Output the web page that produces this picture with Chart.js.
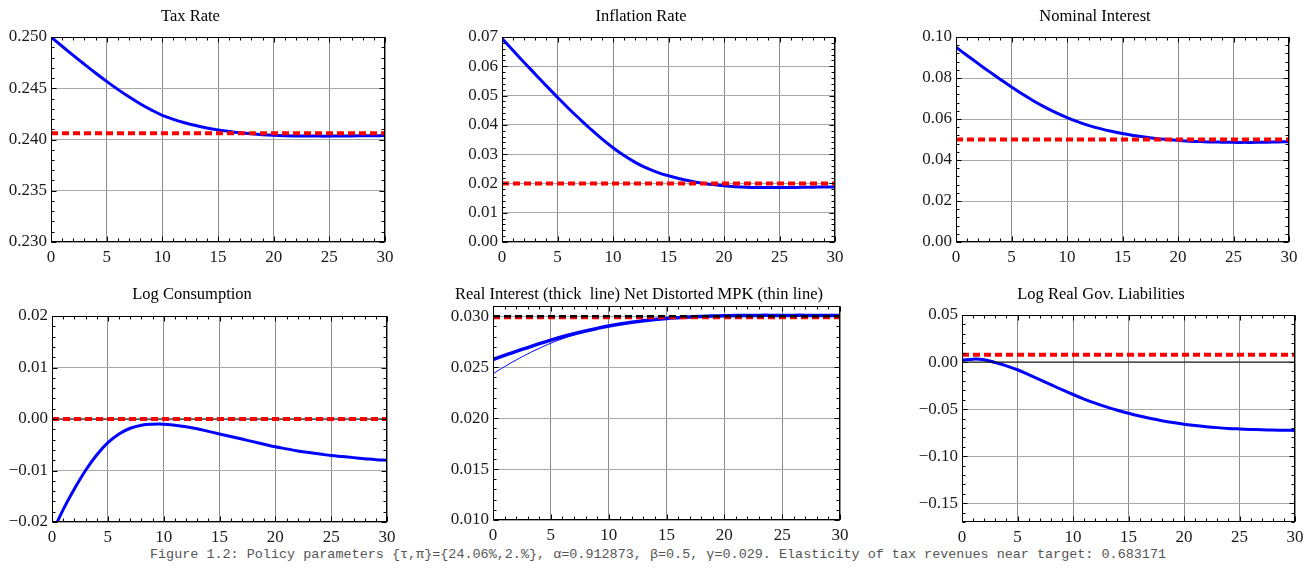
<!DOCTYPE html>
<html>
<head>
<meta charset="utf-8">
<title>Policy parameters</title>
<script src="https://cdn.jsdelivr.net/npm/chart.js@4.4.1/dist/chart.umd.min.js"></script>
<style>
  html, body { margin: 0; padding: 0; background: #fff; }
  body { position: relative; width: 1316px; height: 568px; overflow: hidden; }
  canvas { position: absolute; }
  #caption {
    position: absolute; left: 0; top: 547px; width: 1316px;
    text-align: center; white-space: pre;
    font: 13.45px "Liberation Mono", "DejaVu Sans Mono", monospace;
    line-height: 15px; color: #555;
  }
</style>
</head>
<body>
<div id="caption">Figure 1.2: Policy parameters {τ,π}={24.06%,2.%}, α=0.912873, β=0.5, γ=0.029. Elasticity of tax revenues near target: 0.683171</div>
<script>
// periods 0..30
const years = [0,1,2,3,4,5,6,7,8,9,10,11,12,13,14,15,16,17,18,19,20,21,22,23,24,25,26,27,28,29,30];
const xTicks = [0, 5, 10, 15, 20, 25, 30];
const targetX = [0, 30];

// Tax Rate
const taxPath = [0.25000,0.24910,0.24821,0.24734,0.24649,0.24567,0.24489,0.24416,0.24349,0.24289,0.24236,
  0.24197,0.24164,0.24136,0.24113,0.24094,0.24078,0.24065,0.24055,0.24047,0.24041,
  0.24037,0.24035,0.24034,0.24033,0.24033,0.24034,0.24035,0.24036,0.24037,0.24038];
const taxTarget = [0.2406, 0.2406];
const taxTicks = [0.230, 0.235, 0.240, 0.245, 0.250];

// Inflation Rate
const inflPath = [0.0695,0.0654,0.0613,0.0573,0.0533,0.0494,0.0456,0.0420,0.0385,0.0352,0.0322,
  0.0295,0.0272,0.0253,0.0238,0.0226,0.0216,0.0208,0.0201,0.0196,0.0192,
  0.0189,0.0187,0.0186,0.0186,0.0186,0.0186,0.0187,0.0187,0.0188,0.0188];
const inflTarget = [0.020, 0.020];
const inflTicks = [0.00, 0.01, 0.02, 0.03, 0.04, 0.05, 0.06, 0.07];

// Nominal Interest
const nomPath = [0.0950,0.0910,0.0870,0.0831,0.0793,0.0756,0.0721,0.0688,0.0658,0.0631,0.0607,
  0.0586,0.0568,0.0553,0.0540,0.0529,0.0520,0.0512,0.0505,0.0500,0.0496,
  0.0492,0.0490,0.0488,0.0487,0.0486,0.0486,0.0486,0.0487,0.0488,0.0489];
const nomTarget = [0.050, 0.050];
const nomTicks = [0.00, 0.02, 0.04, 0.06, 0.08, 0.10];

// Log Consumption
const consPath = [-0.0222,-0.0176,-0.0136,-0.0100,-0.0070,-0.0046,-0.0029,-0.0018,-0.0012,-0.0010,-0.0010,
  -0.0012,-0.0015,-0.0019,-0.0024,-0.0029,-0.0034,-0.0039,-0.0044,-0.0049,-0.0054,
  -0.0058,-0.0062,-0.0065,-0.0068,-0.0071,-0.0073,-0.0075,-0.0077,-0.0079,-0.0080];
const consTarget = [0.0, 0.0];
const consTicks = [-0.02, -0.01, 0.00, 0.01, 0.02];

// Real interest (thick) and net distorted MPK (thin)
const realPath = [0.02575,0.02615,0.02655,0.02692,0.02730,0.02765,0.02798,0.02828,0.02855,0.02880,0.02903,
  0.02923,0.02940,0.02955,0.02967,0.02977,0.02985,0.02992,0.02997,0.03001,0.03004,
  0.03006,0.03007,0.03008,0.03008,0.03008,0.03008,0.03008,0.03007,0.03007,0.03007];
const mpkPath = [0.02435,0.02505,0.02570,0.02630,0.02685,0.02735,0.02778,0.02815,0.02847,0.02875,0.02899,
  0.02920,0.02938,0.02953,0.02966,0.02976,0.02984,0.02991,0.02996,0.03000,0.03003,
  0.03005,0.03006,0.03007,0.03007,0.03007,0.03007,0.03007,0.03006,0.03006,0.03006];
const realTarget = [0.0299, 0.0299];
const mpkTarget = [0.0300, 0.0300];
const realTicks = [0.010, 0.015, 0.020, 0.025, 0.030];

// Log Real Gov. Liabilities
const liabPath = [0.0020,0.0031,0.0025,-0.0006,-0.0040,-0.0082,-0.0133,-0.0186,-0.0240,-0.0294,-0.0345,
  -0.0393,-0.0437,-0.0477,-0.0513,-0.0545,-0.0574,-0.0600,-0.0623,-0.0643,-0.0660,
  -0.0675,-0.0687,-0.0697,-0.0705,-0.0711,-0.0716,-0.0720,-0.0723,-0.0725,-0.0727];
const liabTarget = [0.0078, 0.0078];
const liabTicks = [-0.15, -0.10, -0.05, 0.00, 0.05];

const zeroLine = [0, 0];

const pts = (xs, ys) => xs.map((x, i) => ({x: x, y: ys[i]}));

function blue(data, width) {
  return {data: pts(years, data), borderColor: '#0000ff', borderWidth: width || 3,
    tension: 0.4, pointRadius: 0};
}
function dashed(data, color, width, dash) {
  return {data: pts(targetX, data), borderColor: color, borderWidth: width,
    borderDash: dash, pointRadius: 0};
}
function solid(data) {
  return {data: pts(targetX, data), borderColor: '#000', borderWidth: 1, pointRadius: 0};
}

const RED = '#ff0000';

// frame + inward ticks on all four sides, like the original plot frame
const frameTicks = {
  id: 'frameTicks',
  afterDraw(chart, args, opts) {
    const ctx = chart.ctx, a = chart.chartArea;
    const x = chart.scales.x, y = chart.scales.y;
    const l = Math.round(a.left) + 0.5, r = Math.round(a.right) - 0.5;
    const t = Math.round(a.top) + 0.5, b = Math.round(a.bottom) - 0.5;
    ctx.save();
    ctx.strokeStyle = '#000';
    ctx.lineWidth = 1;
    ctx.beginPath();
    for (let v = x.min; v <= x.max + 1e-9; v += 1) {
      const px = Math.round(x.getPixelForValue(v)) + 0.5;
      const len = (v % 5 === 0) ? 5 : 3;
      ctx.moveTo(px, b); ctx.lineTo(px, b - len);
      ctx.moveTo(px, t); ctx.lineTo(px, t + len);
    }
    const step = opts.minor, major = opts.major;
    const k0 = Math.ceil(y.min / step - 1e-6), k1 = Math.floor(y.max / step + 1e-6);
    for (let k = k0; k <= k1; k++) {
      const v = k * step;
      const isMajor = Math.abs(v / major - Math.round(v / major)) < 1e-6;
      const py = Math.round(y.getPixelForValue(v)) + 0.5;
      const len = isMajor ? 5 : 3;
      ctx.moveTo(l, py); ctx.lineTo(l + len, py);
      ctx.moveTo(r, py); ctx.lineTo(r - len, py);
    }
    ctx.stroke();
    ctx.strokeRect(l, t, r - l, b - t);
    ctx.restore();
  }
};

const fmt = (v, dec) => {
  const s = Math.abs(v).toFixed(dec);
  return (v < -1e-12 ? '\u2212' : '') + s;
};

const panels = [
  {title: 'Tax Rate', L: 51, R: 385, T: 37, B: 242, gap: 20.5,
   yMin: 0.230, yMax: 0.250, ticks: taxTicks, dec: 3, minor: 0.001, major: 0.005,
   datasets: [dashed(taxTarget, RED, 4, [7, 4]), blue(taxPath)]},
  {title: 'Inflation Rate', L: 502, R: 835, T: 37, B: 242, gap: 20.5,
   yMin: 0, yMax: 0.07, ticks: inflTicks, dec: 2, minor: 0.002, major: 0.01,
   datasets: [dashed(inflTarget, RED, 4, [7, 4]), blue(inflPath)]},
  {title: 'Nominal Interest', L: 956, R: 1289, T: 37, B: 242, gap: 20.5,
   yMin: 0, yMax: 0.10, ticks: nomTicks, dec: 2, minor: 0.004, major: 0.02,
   datasets: [dashed(nomTarget, RED, 4, [7, 4]), blue(nomPath)]},
  {title: 'Log Consumption', L: 52, R: 387, T: 316, B: 522, gap: 21,
   yMin: -0.02, yMax: 0.02, ticks: consTicks, dec: 2, minor: 0.002, major: 0.01,
   datasets: [dashed(consTarget, RED, 4, [7, 4]), solid(zeroLine), blue(consPath)]},
  {title: 'Real Interest (thick  line) Net Distorted MPK (thin line)', L: 493, R: 840, T: 306, B: 520, gap: 11,
   yMin: 0.010, yMax: 0.031, ticks: realTicks, dec: 3, minor: 0.001, major: 0.005,
   datasets: [dashed(mpkTarget, '#000', 2.5, [7, 4]), dashed(realTarget, RED, 4, [7, 4]),
              blue(realPath, 3.5), blue(mpkPath, 1)]},
  {title: 'Log Real Gov. Liabilities', L: 962, R: 1295, T: 315, B: 522, gap: 20,
   yMin: -0.17, yMax: 0.05, ticks: liabTicks, dec: 2, minor: 0.01, major: 0.05,
   datasets: [dashed(liabTarget, RED, 4, [7, 4]), solid(zeroLine), blue(liabPath)]}
];

const SIDE = 55, TOP = 40, BOTTOM = 25;
const TITLE_SIZE = 16.5, TITLE_LH = 1.2;
const tickFont = {family: '"Liberation Serif", "Times New Roman", serif', size: 17};

panels.forEach((p, i) => {
  const cv = document.createElement('canvas');
  cv.width = (p.R - p.L) + 2 * SIDE;
  cv.height = (p.B - p.T) + TOP + BOTTOM;
  cv.style.left = (p.L - SIDE) + 'px';
  cv.style.top = (p.T - TOP) + 'px';
  document.body.appendChild(cv);

  const lh = TITLE_SIZE * TITLE_LH;
  const padTop = TOP - p.gap - lh / 2;
  const padBottom = TOP - padTop - lh;

  new Chart(cv.getContext('2d'), {
    type: 'line',
    data: {datasets: p.datasets},
    plugins: [frameTicks],
    options: {
      responsive: false,
      animation: false,
      devicePixelRatio: 1,
      layout: {padding: {left: 0, right: SIDE, top: 0, bottom: 0}},
      plugins: {
        legend: {display: false},
        tooltip: {enabled: false},
        title: {
          display: true, text: p.title, color: '#000',
          font: {family: '"Liberation Serif", "Times New Roman", serif', size: TITLE_SIZE, weight: 'normal', lineHeight: TITLE_LH},
          padding: {top: padTop, bottom: padBottom}
        },
        frameTicks: {minor: p.minor, major: p.major}
      },
      scales: {
        x: {
          type: 'linear', min: 0, max: 30,
          afterBuildTicks: s => { s.ticks = xTicks.map(v => ({value: v})); },
          afterFit: s => { s.height = BOTTOM; },
          grid: {color: '#8c8c8c', lineWidth: 1, drawTicks: false},
          border: {display: false},
          ticks: {font: tickFont, color: '#1a1a1a', padding: 5, maxRotation: 0,
                  callback: v => String(v)}
        },
        y: {
          type: 'linear', min: p.yMin, max: p.yMax,
          afterBuildTicks: s => { s.ticks = p.ticks.map(v => ({value: v})); },
          afterFit: s => { s.width = SIDE; },
          grid: {color: '#a8a8a8', lineWidth: 1, drawTicks: false},
          border: {display: false},
          ticks: {font: tickFont, color: '#1a1a1a', padding: 4,
                  callback: v => fmt(v, p.dec)}
        }
      }
    }
  });
});
</script>
</body>
</html>
